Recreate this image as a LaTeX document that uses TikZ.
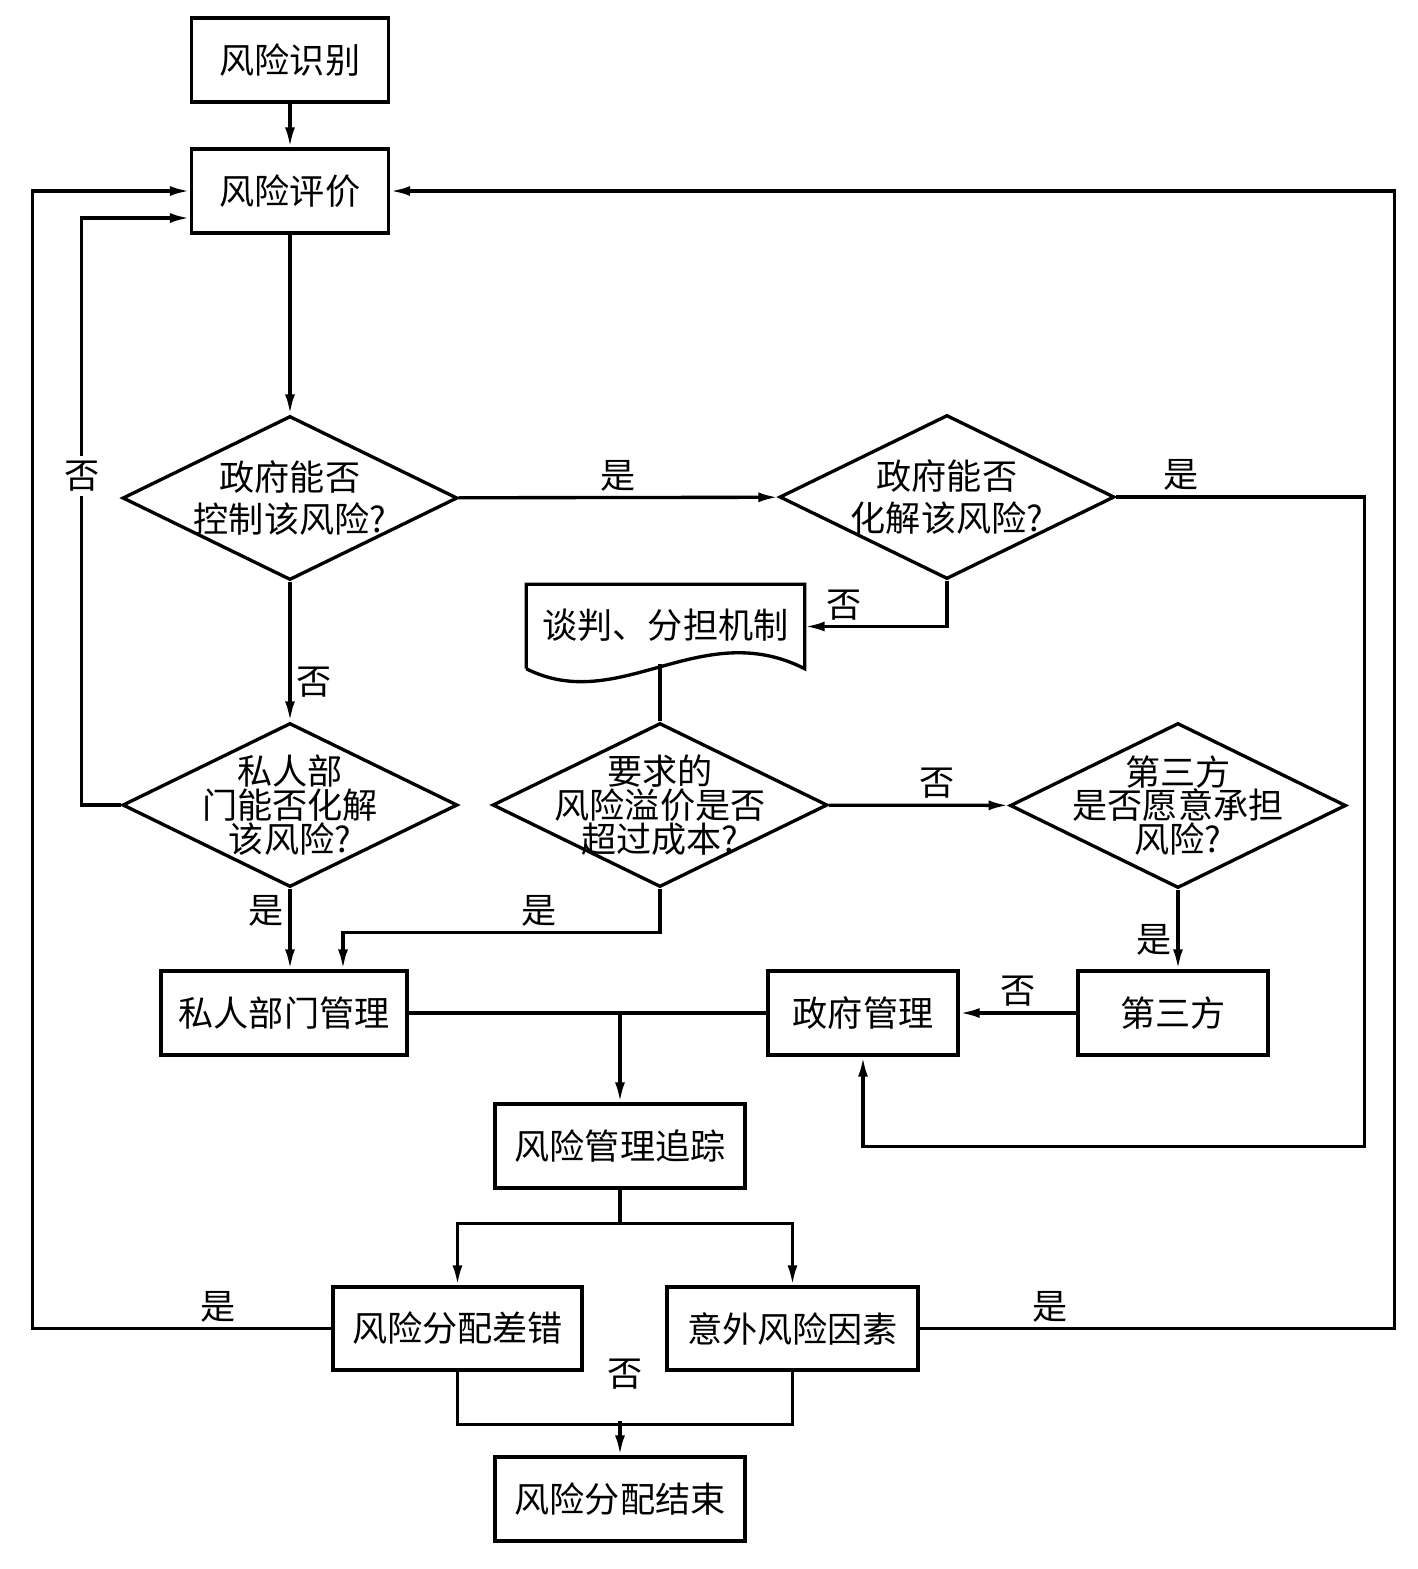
\documentclass[tikz,border=0pt]{standalone}
\usepackage{fontspec}
\setmainfont{Noto Sans CJK SC}
\usetikzlibrary{shapes.geometric, arrows.meta}
\newcommand{\flowfont}{\fontsize{10}{12}\selectfont}
\tikzset{
  box/.style={draw, line width=0.95pt, minimum height=0.84cm, inner sep=0pt, font=\flowfont},
  dia/.style={draw, diamond, line width=0.95pt, aspect=2, inner sep=-1.5mm, minimum width=3.35cm, minimum height=1.64cm, align=center, font=\flowfont},
  diathree/.style={dia, font=\fontsize{10}{9.6}\selectfont},
  arr/.style={-{Latex[length=2mm,width=1mm]}, line width=0.95pt},
  twoarr/.style={{Latex[length=2mm,width=1mm]}-{Latex[length=2mm,width=1mm]}, line width=0.95pt},
  link/.style={line width=0.95pt},
  lbl/.style={font=\flowfont, inner sep=0.5mm},
}

\begin{document}
\begin{tikzpicture}
  \useasboundingbox (0,0) rectangle (14.18,-15.69);

  % Top boxes
  \node[box, minimum width=1.97cm] (ident) at (2.90,-0.60) {风险识别};
  \node[box, minimum width=1.97cm] (eval) at (2.90,-1.91) {风险评价};

  % Decisions
  \node[dia] (ctrl) at (2.90,-4.98) {政府能否\\控制该风险?};
  \node[dia] (solve) at (9.47,-4.97) {政府能否\\化解该风险?};
  \node[diathree] (private) at (2.90,-8.05) {私人部\\门能否化解\\该风险?};
  \node[diathree] (premium) at (6.60,-8.05) {要求的\\风险溢价是否\\超过成本?};
  \node[diathree, minimum width=3.36cm, minimum height=1.65cm] (third) at (11.78,-8.055) {第三方\\是否愿意承担\\风险?};

  % Negotiation document
  \node[minimum width=2.77cm, minimum height=0.83cm, inner sep=0pt, font=\flowfont] (nego) at (6.655,-6.265) {\raisebox{0.6mm}{谈判、分担机制}};
  \draw[link] (nego.south west) -- (nego.north west) -- (nego.north east) -- (nego.south east)
    .. controls +(-1.04,0.53) and +(0.93,-0.47) .. (nego.south west);

  % Management boxes
  \node[box, minimum width=2.46cm] (pmgmt) at (2.84,-10.13) {私人部门管理};
  \node[box, minimum width=1.90cm] (gmgmt) at (8.63,-10.13) {政府管理};
  \node[box, minimum width=1.90cm] (tparty) at (11.73,-10.13) {第三方};
  \node[box, minimum width=2.50cm] (track) at (6.20,-11.46) {风险管理追踪};
  \node[box, minimum width=2.49cm, minimum height=0.83cm] (err) at (4.575,-13.285) {风险分配差错};
  \node[box, minimum width=2.51cm, minimum height=0.83cm] (unexp) at (7.925,-13.285) {意外风险因素};
  \node[box, minimum width=2.50cm] (endn) at (6.20,-14.99) {风险分配结束};

  % Main flow
  \draw[arr] (ident) -- (eval);
  \draw[arr] (eval) -- (ctrl);
  \draw[arr] (ctrl) -- node[lbl, above] {是} (solve);
  \draw[arr] (ctrl) -- node[lbl, right, pos=0.72] {否} (private);
  \draw[arr] (solve.south) |- node[lbl, above, pos=0.86] {否} (nego.east);
  \draw[arr] (solve.east) -- node[lbl, above, pos=0.26] {是} ++(2.48,0)
    |- ([yshift=-9mm]gmgmt.south) -- (gmgmt.south);
  \draw[arr] (private.west) -- ++(-0.39,0)
    |- node[lbl, fill=white, pos=0.28] {否} ([yshift=-2.7mm]eval.west);
  \draw[link] (premium.north) -- ++(0,0.57);
  \draw[arr] (premium) -- node[lbl, above, pos=0.6] {否} (third);
  \draw[arr] (premium.south) -- ++(0,-0.44)
    -| node[lbl, above, pos=0.19] {是} ([xshift=5.9mm]pmgmt.north);
  \draw[arr] (private.south) -- node[lbl, left, pos=0.27] {是} (private.south |- pmgmt.north);
  \draw[arr] (third.south) -- node[lbl, left, pos=0.63] {是} (third.south |- tparty.north);
  \draw[arr] (tparty) -- node[lbl, above] {否} (gmgmt);

  % Tracking
  \draw[link] (pmgmt) -- (gmgmt);
  \draw[arr] (track.north |- pmgmt.east) -- (track.north);
  \draw[link] (track.south) -- ++(0,-0.34);
  \draw[twoarr] (err.north) |- ([yshift=-3.4mm]track.south) -| (unexp.north);

  % Feedback loops
  \draw[arr] (err.west) -| node[lbl, above, pos=0.19] {是} ([xshift=-15.7mm]eval.west) -- (eval.west);
  \draw[arr] (unexp.east) -| node[lbl, above, pos=0.137] {是} ([xshift=10.04cm]eval.east) -- (eval.east);

  % End
  \draw[link] (err.south) -- ++(0,-0.53) -| node[lbl, above=2.9mm, pos=0.25] {否} (unexp.south);
  \draw[arr] ([yshift=3.4mm]endn.north) -- (endn.north);
\end{tikzpicture}
\end{document}
